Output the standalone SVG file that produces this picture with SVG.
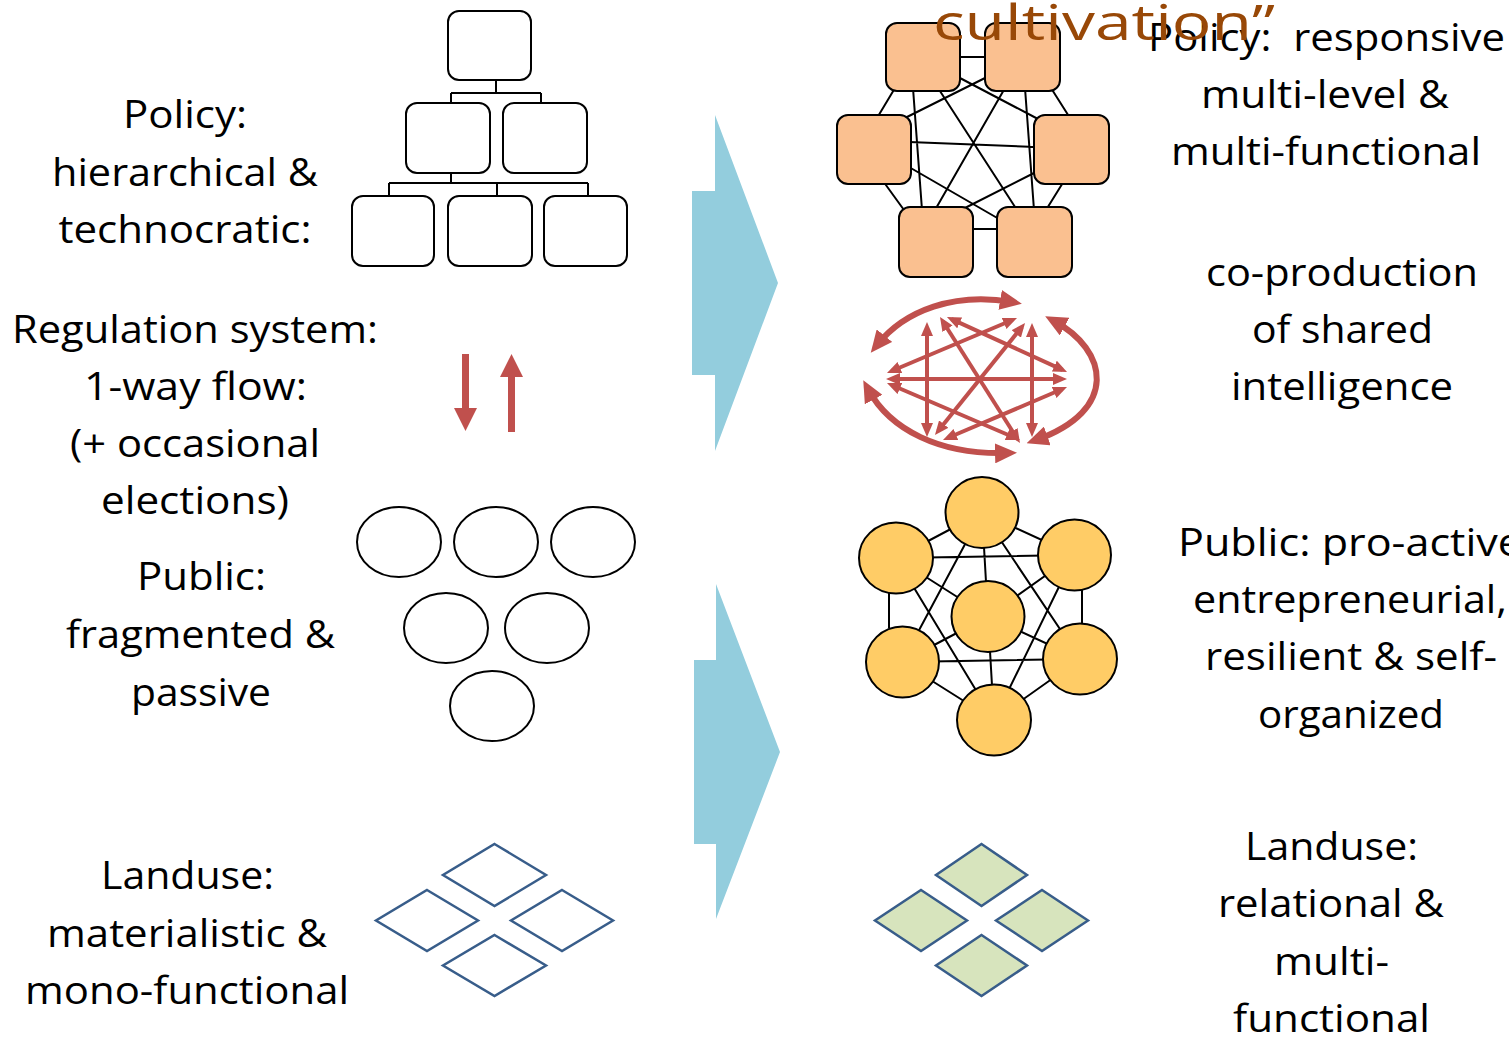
<svg xmlns="http://www.w3.org/2000/svg" width="1509" height="1037" viewBox="0 0 1509 1037">
<style>
.t{font-family:"Open Sans","Liberation Sans",sans-serif;font-size:38px;fill:#000;text-anchor:middle}
.cult{font-family:"Open Sans","Liberation Sans",sans-serif;font-size:50px;fill:#984807}
.box{fill:#fff;stroke:#000;stroke-width:2}
.obox{fill:#FAC090;stroke:#000;stroke-width:2}
.ell{fill:#fff;stroke:#000;stroke-width:2}
.yc{fill:#FFCC66;stroke:#000;stroke-width:2}
.ln{stroke:#000;stroke-width:2;fill:none}
.dia{fill:none;stroke:#385D8A;stroke-width:2.5}
.gdia{fill:#D7E4BD;stroke:#385D8A;stroke-width:2.5}
.big{fill:#93CDDD}
.red{fill:#C0504D}
.ia{stroke:#C0504D;stroke-width:4;fill:none;marker-start:url(#hs);marker-end:url(#hs)}
.oa{stroke:#C0504D;stroke-width:6;fill:none;marker-start:url(#hl);marker-end:url(#hl)}
</style>
<defs>
<marker id="hs" markerUnits="userSpaceOnUse" markerWidth="14" markerHeight="12" refX="9" refY="6" orient="auto-start-reverse"><path d="M0,0 L14,6 L0,12 z" fill="#C0504D"/></marker>
<marker id="hl" markerUnits="userSpaceOnUse" markerWidth="22" markerHeight="20" refX="12" refY="10" orient="auto-start-reverse"><path d="M0,0 L22,10 L0,20 z" fill="#C0504D"/></marker>
</defs>

<!-- blue transition arrows -->
<g id="arrow-top"><polygon class="big" points="715,115 778,283 715,451 715,375 692,375 692,191 715,191"/></g>
<g id="arrow-bottom"><polygon class="big" points="716,584 780,752 716,919 716,844 694,844 694,660 716,660"/></g>

<!-- left texts -->
<g id="label-policy-left">
<text class="t" x="185" y="128" textLength="124" lengthAdjust="spacingAndGlyphs">Policy:</text>
<text class="t" x="185" y="186" textLength="266" lengthAdjust="spacingAndGlyphs">hierarchical &amp;</text>
<text class="t" x="185" y="243" textLength="253" lengthAdjust="spacingAndGlyphs">technocratic:</text>
</g>
<g id="label-regulation">
<text class="t" x="195" y="343" textLength="366" lengthAdjust="spacingAndGlyphs">Regulation system:</text>
<text class="t" x="195.5" y="400" textLength="223" lengthAdjust="spacingAndGlyphs">1-way flow:</text>
<text class="t" x="195" y="457" textLength="250" lengthAdjust="spacingAndGlyphs">(+ occasional</text>
<text class="t" x="195" y="514" textLength="188" lengthAdjust="spacingAndGlyphs">elections)</text>
</g>
<g id="label-public-left">
<text class="t" x="201.5" y="590" textLength="129" lengthAdjust="spacingAndGlyphs">Public:</text>
<text class="t" x="200.5" y="648" textLength="269" lengthAdjust="spacingAndGlyphs">fragmented &amp;</text>
<text class="t" x="201" y="706" textLength="140" lengthAdjust="spacingAndGlyphs">passive</text>
</g>
<g id="label-landuse-left">
<text class="t" x="187.5" y="889" textLength="173" lengthAdjust="spacingAndGlyphs">Landuse:</text>
<text class="t" x="187" y="947" textLength="280" lengthAdjust="spacingAndGlyphs">materialistic &amp;</text>
<text class="t" x="187" y="1004" textLength="324" lengthAdjust="spacingAndGlyphs">mono-functional</text>
</g>

<!-- hierarchy tree -->
<g id="connectors">
<path class="ln" d="M496,80 V93 M451,93 H541 M451,93 V103 M541,93 V103"/>
<path class="ln" d="M451,173 V183 M389,183 H588 M389,183 V196 M497,183 V196 M588,183 V196"/>
</g>
<g id="tree-top"><rect class="box" x="448" y="11" width="83" height="69" rx="11"/></g>
<g id="tree-mid-left"><rect class="box" x="406" y="103" width="84" height="70" rx="11"/></g>
<g id="tree-mid-right"><rect class="box" x="503" y="103" width="84" height="70" rx="11"/></g>
<g id="tree-bot-1"><rect class="box" x="352" y="196" width="82" height="70" rx="11"/></g>
<g id="tree-bot-2"><rect class="box" x="448" y="196" width="84" height="70" rx="11"/></g>
<g id="tree-bot-3"><rect class="box" x="544" y="196" width="83" height="70" rx="11"/></g>

<!-- one way flow arrows -->
<g id="flow-down"><polygon class="red" points="462,354 469,354 469,408 477,408 465.5,431 454,408 462,408"/></g>
<g id="flow-up"><polygon class="red" points="508,432 515,432 515,377 523,377 511.5,354 500,377 508,377"/></g>

<!-- fragmented public -->
<g id="public-left">
<ellipse class="ell" cx="399" cy="542" rx="42" ry="35"/>
<ellipse class="ell" cx="496" cy="542" rx="42" ry="35"/>
<ellipse class="ell" cx="593" cy="542" rx="42" ry="35"/>
<ellipse class="ell" cx="446" cy="628" rx="42" ry="35"/>
<ellipse class="ell" cx="547" cy="628" rx="42" ry="35"/>
<ellipse class="ell" cx="492" cy="706" rx="42" ry="35"/>
</g>

<!-- landuse left -->
<g id="landuse-left">
<polygon class="dia" points="494.5,844 546,875 494.5,906 443,875"/>
<polygon class="dia" points="427,890 478,920.5 427,951 376,920.5"/>
<polygon class="dia" points="562,890 613,920.5 562,951 511,920.5"/>
<polygon class="dia" points="494.5,935 546,965.5 494.5,996 443,965.5"/>
</g>

<!-- right policy network -->
<g id="policy-network-edges">
<path class="ln" d="M958,57 L987,57 M971,229 L999,229 M895,88 L877,118 M1051,88 L1070,118 M883,181 L904,210 M1064,181 L1046,210 M913,88 L922,210 M1025,88 L1034,210 M958,77 L1038,119 M987,77 L905,118 M938,88 L1017,210 M1005,88 L935,210 M909,142 L1036,147 M909,167 L999,219 M1036,172 L963,209"/>
</g>
<g id="policy-tl"><rect class="obox" x="886" y="23" width="74" height="68" rx="11"/></g>
<g id="policy-tr"><rect class="obox" x="985" y="23" width="75" height="68" rx="11"/></g>
<g id="policy-ml"><rect class="obox" x="837" y="115" width="74" height="69" rx="11"/></g>
<g id="policy-mr"><rect class="obox" x="1034" y="115" width="75" height="69" rx="11"/></g>
<g id="policy-bl"><rect class="obox" x="899" y="207" width="74" height="70" rx="11"/></g>
<g id="policy-br"><rect class="obox" x="997" y="207" width="75" height="70" rx="11"/></g>

<!-- co-production arrows -->
<g id="coproduction">
<path class="oa" d="M877,345 C905,310 955,292 1012,302"/>
<path class="oa" d="M1054,321 C1108,350 1120,410 1036,440"/>
<path class="oa" d="M868,389 C890,430 940,455 1007,453"/>
<line class="ia" x1="927" y1="327" x2="927" y2="432"/>
<line class="ia" x1="1032" y1="328" x2="1032" y2="432"/>
<line class="ia" x1="891" y1="379" x2="1062" y2="379"/>
<line class="ia" x1="942.7" y1="321.2" x2="1017.3" y2="438.8"/>
<line class="ia" x1="951.5" y1="319.1" x2="1062.5" y2="369.9"/>
<line class="ia" x1="1012.4" y1="320" x2="891.6" y2="371"/>
<line class="ia" x1="1021.9" y1="326.9" x2="938.1" y2="431.1"/>
<line class="ia" x1="891.6" y1="385" x2="1015.4" y2="438"/>
<line class="ia" x1="1062.4" y1="389" x2="947.6" y2="438"/>
</g>

<!-- public network -->
<g id="public-network-edges">
<path class="ln" d="M982,512.5 L896,558 M982,512.5 L1074.5,555 M982,512.5 L988,616.5 M982,512.5 L902,662 M982,512.5 L1080,659 M896,558 L1074.5,555 M896,558 L988,616.5 M896,558 L994,720 M1074.5,555 L988,616.5 M1074.5,555 L994,720 M902,662 L988,616.5 M902,662 L1080,659 M902,662 L994,720 M1080,659 L988,616.5 M1080,659 L994,720 M988,616.5 L994,720 M889,590 L889,628 M1082,588 L1082,626"/>
</g>
<g id="pub-top"><ellipse class="yc" cx="982" cy="512.5" rx="36.5" ry="35.5"/></g>
<g id="pub-ul"><ellipse class="yc" cx="896" cy="558" rx="37" ry="35.5"/></g>
<g id="pub-ur"><ellipse class="yc" cx="1074.5" cy="555" rx="36.5" ry="35.5"/></g>
<g id="pub-c"><ellipse class="yc" cx="988" cy="616.5" rx="36.5" ry="35.5"/></g>
<g id="pub-ll"><ellipse class="yc" cx="902.5" cy="662" rx="36.5" ry="35.5"/></g>
<g id="pub-lr"><ellipse class="yc" cx="1080" cy="659" rx="37" ry="35.5"/></g>
<g id="pub-b"><ellipse class="yc" cx="994" cy="720" rx="37" ry="35.5"/></g>

<!-- landuse right -->
<g id="landuse-right">
<polygon class="gdia" points="981.5,844 1027,875 981.5,906 936,875"/>
<polygon class="gdia" points="921,890 967,920.5 921,951 875,920.5"/>
<polygon class="gdia" points="1042,890 1088,920.5 1042,951 996,920.5"/>
<polygon class="gdia" points="981.5,935 1027,965.5 981.5,996 936,965.5"/>
</g>

<!-- right texts -->
<g id="label-policy-right">
<text class="t" x="1326.5" y="51" textLength="357" lengthAdjust="spacingAndGlyphs" xml:space="preserve">Policy:  responsive</text>
<text class="t" x="1325" y="108" textLength="248" lengthAdjust="spacingAndGlyphs">multi-level &amp;</text>
<text class="t" x="1326" y="165" textLength="310" lengthAdjust="spacingAndGlyphs">multi-functional</text>
</g>
<g id="label-coproduction">
<text class="t" x="1342" y="286" textLength="272" lengthAdjust="spacingAndGlyphs">co-production</text>
<text class="t" x="1342.5" y="343" textLength="181" lengthAdjust="spacingAndGlyphs">of shared</text>
<text class="t" x="1342" y="400" textLength="222" lengthAdjust="spacingAndGlyphs">intelligence</text>
</g>
<g id="label-public-right">
<text class="t" x="1350" y="556" textLength="344" lengthAdjust="spacingAndGlyphs">Public: pro-active</text>
<text class="t" x="1350" y="613" textLength="314" lengthAdjust="spacingAndGlyphs">entrepreneurial,</text>
<text class="t" x="1351" y="670" textLength="292" lengthAdjust="spacingAndGlyphs">resilient &amp; self-</text>
<text class="t" x="1351" y="728" textLength="186" lengthAdjust="spacingAndGlyphs">organized</text>
</g>
<g id="label-landuse-right">
<text class="t" x="1331.5" y="860" textLength="173" lengthAdjust="spacingAndGlyphs">Landuse:</text>
<text class="t" x="1331" y="917" textLength="226" lengthAdjust="spacingAndGlyphs">relational &amp;</text>
<text class="t" x="1331.5" y="975" textLength="115" lengthAdjust="spacingAndGlyphs">multi-</text>
<text class="t" x="1331.5" y="1032" textLength="197" lengthAdjust="spacingAndGlyphs">functional</text>
</g>
<g id="label-cultivation"><text class="cult" x="933" y="40" textLength="342" lengthAdjust="spacingAndGlyphs">cultivation”</text></g>
</svg>
